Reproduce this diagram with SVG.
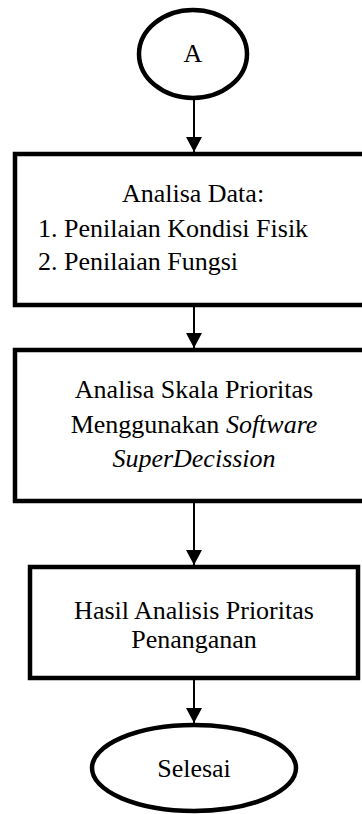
<svg xmlns="http://www.w3.org/2000/svg" width="362" height="814" viewBox="0 0 362 814">
<style>
.shape{fill:#fff;stroke:#000;stroke-width:4.5}
.t{font-family:"Liberation Serif","Times New Roman",serif;font-size:26px;fill:#000}
.c{text-anchor:middle}
.conn{stroke:#000;stroke-width:2;fill:none;marker-end:url(#ah)}
</style>
<defs>
<marker id="ah" markerUnits="userSpaceOnUse" markerWidth="16" markerHeight="16" viewBox="0 0 16 16" refX="8" refY="15" orient="0">
<path d="M0,0 L16,0 L8,15 Z" fill="#000"/>
</marker>
</defs>
<rect width="362" height="814" fill="#fff"/>
<g id="connectors">
<line class="conn" x1="194" y1="100" x2="194" y2="152"/>
<line class="conn" x1="194" y1="307" x2="194" y2="348"/>
<line class="conn" x1="194" y1="503" x2="194" y2="565"/>
<line class="conn" x1="194" y1="680" x2="194" y2="723"/>
</g>
<g id="start">
<ellipse class="shape" cx="193" cy="54" rx="54" ry="44"/>
<text class="t c" x="193" y="62">A</text>
</g>
<g id="analisa-data">
<rect class="shape" x="15" y="154" width="352" height="151"/>
<text class="t c" x="193" y="202">Analisa Data:</text>
<text class="t" x="38" y="237">1. Penilaian Kondisi Fisik</text>
<text class="t" x="38" y="270">2. Penilaian Fungsi</text>
</g>
<g id="analisa-skala">
<rect class="shape" x="15" y="350" width="352" height="151"/>
<text class="t c" x="194" y="398">Analisa Skala Prioritas</text>
<text class="t c" x="194" y="433">Menggunakan <tspan font-style="italic">Software</tspan></text>
<text class="t c" x="194" y="467" font-style="italic">SuperDecission</text>
</g>
<g id="hasil">
<rect class="shape" x="30" y="567" width="328" height="111"/>
<text class="t c" x="194" y="619">Hasil Analisis Prioritas</text>
<text class="t c" x="194" y="648">Penanganan</text>
</g>
<g id="selesai">
<ellipse class="shape" cx="194" cy="768" rx="102" ry="43"/>
<text class="t c" x="194" y="777">Selesai</text>
</g>
</svg>
